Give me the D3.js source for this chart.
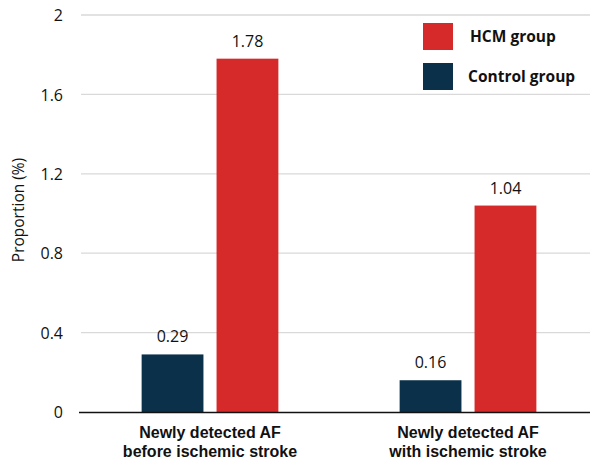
<!DOCTYPE html>
<html>
<head>
<meta charset="utf-8">
<script src="https://cdn.jsdelivr.net/npm/d3@7"></script>
<style>
  html, body { margin: 0; padding: 0; background: #fff; }
  svg { display: block; }
</style>
</head>
<body>
<div id="chart"></div>
<script>
const categories = [["Newly detected AF", "before ischemic stroke"], ["Newly detected AF", "with ischemic stroke"]];
const seriesNames = ["Control group", "HCM group"];
const controlValues = [0.29, 0.16];
const hcmValues = [1.78, 1.04];
const yTicks = [0, 0.4, 0.8, 1.2, 1.6, 2];
const yTickLabels = ["0", "0.4", "0.8", "1.2", "1.6", "2"];
const legendOrder = ["HCM group", "Control group"];
const colors = { "HCM group": "#D6292A", "Control group": "#0B3049" };

const W = 590, H = 464;
const svg = d3.select("#chart").append("svg").attr("width", W).attr("height", H);

const x0 = d3.scaleBand().domain(d3.range(categories.length)).range([81, 597]).paddingInner(0.47).paddingOuter(0.235);
const x1 = d3.scaleBand().domain(seriesNames).range([0, x0.bandwidth()]).paddingInner(0.175);
const y = d3.scaleLinear().domain([0, 2]).range([412, 15]);

// gridlines
svg.append("g").selectAll("line").data(yTicks.filter(t => t > 0)).join("line")
  .attr("x1", 81).attr("x2", W).attr("y1", d => y(d)).attr("y2", d => y(d))
  .attr("stroke", "#D9D9D9").attr("stroke-width", 1.3);

// y tick labels via axis
const yAxis = d3.axisLeft(y).tickValues(yTicks).tickFormat((d, i) => yTickLabels[i]).tickSize(0).tickPadding(0);
const gy = svg.append("g").attr("transform", "translate(63,0)").call(yAxis);
gy.select(".domain").remove();
gy.selectAll("text").attr("font-family", "'Open Sans', sans-serif").attr("font-size", 16).attr("fill", "#111").attr("dy", "0.35em");

// y label
svg.append("text").attr("transform", "translate(24,210) rotate(-90)")
  .attr("text-anchor", "middle").attr("font-family", "'Open Sans', sans-serif").attr("font-size", 15.5).attr("fill", "#111")
  .text("Proportion (%)");

// bars
const data = categories.map((c, i) => ({ i, vals: [{ s: "Control group", v: controlValues[i] }, { s: "HCM group", v: hcmValues[i] }] }));
const g = svg.append("g").selectAll("g").data(data).join("g").attr("transform", d => `translate(${x0(d.i)},0)`);
g.selectAll("rect").data(d => d.vals).join("rect")
  .attr("x", d => x1(d.s)).attr("width", x1.bandwidth())
  .attr("y", d => y(d.v)).attr("height", d => y(0) - y(d.v))
  .attr("fill", d => colors[d.s]);
g.selectAll("text.val").data(d => d.vals).join("text").attr("class", "val")
  .attr("x", d => x1(d.s) + x1.bandwidth() / 2).attr("y", d => y(d.v) - 12)
  .attr("text-anchor", "middle").attr("font-family", "'Open Sans', sans-serif").attr("font-size", 16).attr("fill", "#111")
  .text(d => d.v.toFixed(2));

// x axis line
svg.append("line").attr("x1", 79).attr("x2", W).attr("y1", y(0) + 0.5).attr("y2", y(0) + 0.5)
  .attr("stroke", "#111").attr("stroke-width", 1.6);

// category labels
const cl = svg.append("g").selectAll("text").data(categories).join("text")
  .attr("text-anchor", "middle").attr("font-family", "'Liberation Sans', Arial, sans-serif").attr("font-weight", "bold")
  .attr("font-size", 16).attr("fill", "#111")
  .attr("transform", (d, i) => `translate(${x0(i) + x0.bandwidth() / 2},0)`);
cl.selectAll("tspan").data(d => d).join("tspan").attr("x", 0).attr("y", (d, j) => 438 + j * 19).text(d => d);

// legend
const lg = svg.append("g").selectAll("g").data(legendOrder).join("g")
  .attr("transform", (d, i) => `translate(423,${23 + i * 40})`);
lg.append("rect").attr("width", 30).attr("height", 27).attr("fill", d => colors[d]);
lg.append("text").attr("x", d => d === "HCM group" ? 47 : 45).attr("y", 14).attr("dy", "0.35em")
  .attr("font-family", "'Open Sans', sans-serif").attr("font-weight", "bold").attr("font-size", 15.5).attr("fill", "#111")
  .text(d => d);
</script>
</body>
</html>
